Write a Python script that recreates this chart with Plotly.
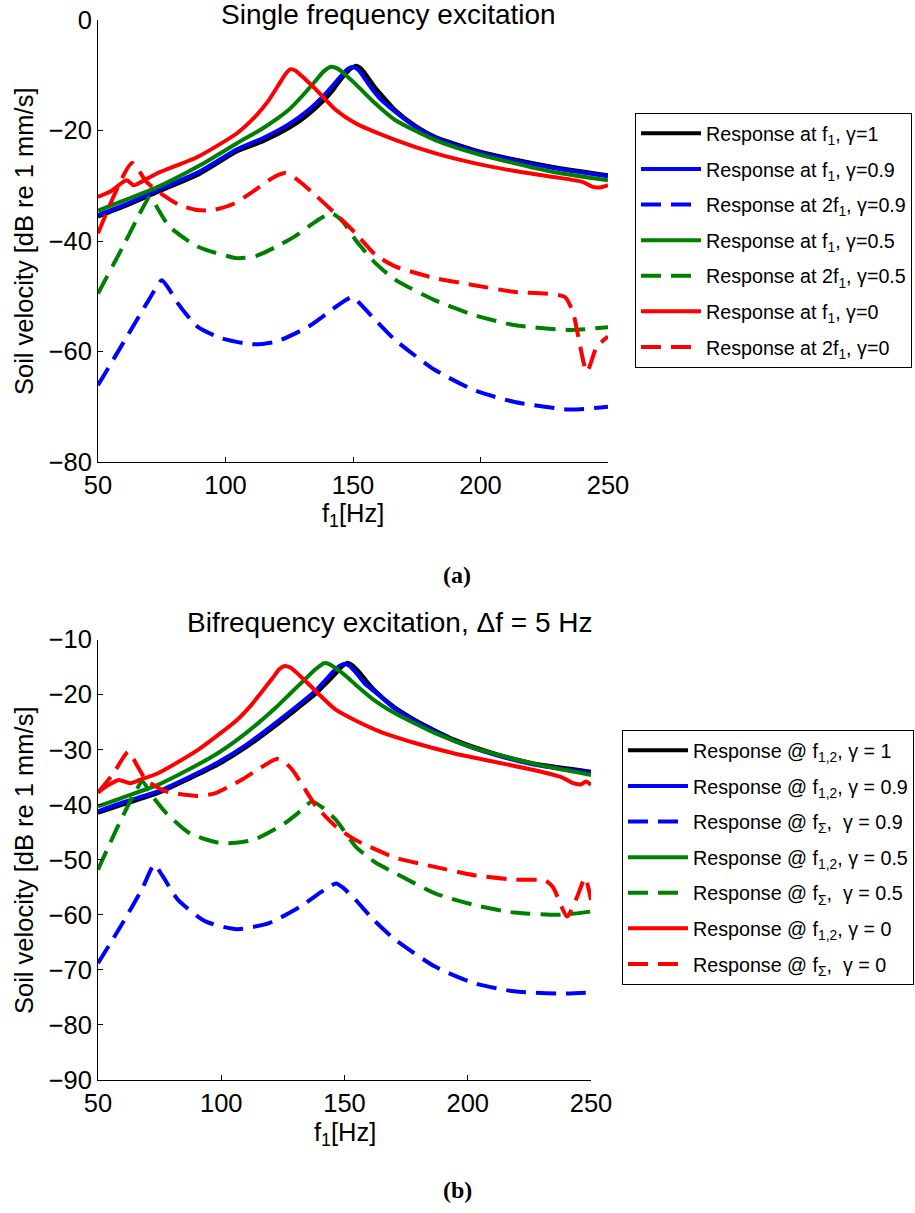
import plotly.graph_objects as go

W, H = 915, 1213

# ---------------- Panel (a): single frequency excitation ----------------
a_f1_g1_x = [50, 60, 73.5, 90, 104.5, 115, 124.7, 132, 138.7, 142, 145, 148, 151.2, 153, 155, 158, 162, 166.5, 174, 182, 197.5, 213, 228.5, 250]
a_f1_g1_y = [-35.6, -33.8, -31.1, -27.8, -23.8, -21.9, -19.6, -17.3, -14.5, -12.8, -10.9, -9.3, -8.3, -8.7, -9.8, -11.8, -14.0, -16.3, -19.0, -21.1, -23.5, -25.2, -26.6, -28.1]

a_f1_g09_x = [50, 60, 73.5, 90, 104.5, 115, 124.7, 132, 138.7, 142, 145, 147.5, 149.8, 152, 154, 157, 161, 166.5, 174, 182, 197.5, 213, 228.5, 250]
a_f1_g09_y = [-35.3, -33.5, -30.8, -27.4, -23.4, -21.3, -18.9, -16.5, -13.6, -11.9, -10.3, -9.0, -8.5, -9.0, -10.2, -12.2, -14.4, -16.6, -19.2, -21.3, -23.7, -25.4, -26.8, -28.3]

a_2f1_g09_x = [50, 62, 70, 75, 78, 81.3, 89, 98.3, 110.7, 120, 132.5, 143.3, 147.5, 149.6, 152, 158.8, 166.5, 182, 197.5, 213, 234.7, 250]
a_2f1_g09_y = [-66.1, -56.8, -50.6, -47.1, -48.8, -51.3, -55.5, -57.6, -58.7, -58.2, -55.5, -51.9, -50.6, -50.1, -51.0, -54.3, -57.9, -63.3, -67.0, -69.1, -70.5, -70.0]

a_f1_g05_x = [50, 60, 73.5, 90, 104.5, 115, 124.7, 130, 135.5, 138.5, 141.4, 144, 146, 151, 158, 166.5, 182, 197.5, 213, 228.5, 250]
a_f1_g05_y = [-34.5, -32.7, -30.2, -26.3, -22.3, -19.5, -16.3, -13.8, -10.9, -9.3, -8.45, -8.8, -9.5, -11.6, -14.8, -18.1, -21.7, -24.1, -25.9, -27.5, -29.0]

a_2f1_g05_x = [50, 60, 67, 70.4, 74, 78, 89, 104.5, 112, 120, 127, 132.5, 138, 141.8, 146, 151, 158.8, 166.5, 182, 197.5, 213, 234.7, 250]
a_2f1_g05_y = [-49.5, -40.8, -34.5, -32.0, -34.6, -37.4, -41.0, -43.1, -42.7, -41.0, -39.2, -37.4, -35.7, -35.0, -36.5, -39.8, -44.0, -47.0, -50.7, -53.4, -55.2, -56.1, -55.6]

a_f1_g0_x = [50, 55, 61.2, 64, 67, 73.5, 89, 104.5, 112, 117, 121, 123.5, 125.5, 127.5, 130, 135.5, 143.3, 151, 166.5, 182, 197.5, 213, 228.5, 240, 244, 247, 250]
a_f1_g0_y = [-32.0, -31.0, -29.0, -29.9, -29.3, -27.7, -24.8, -20.5, -17.3, -14.5, -11.6, -9.8, -8.9, -9.2, -10.2, -12.6, -16.3, -18.7, -21.7, -24.1, -25.9, -27.3, -28.4, -29.3, -30.2, -30.3, -29.9]

a_2f1_g0_x = [50, 63.4, 69, 75, 82, 89, 95, 103, 110, 117, 121, 123.2, 126, 130, 135.5, 143, 151, 158.8, 166.5, 182, 197.5, 213, 233, 236.3, 241.7, 245.6, 250]
a_2f1_g0_y = [-38.6, -25.9, -29.3, -31.5, -33.5, -34.4, -34.4, -33.3, -31.3, -29.0, -28.0, -27.7, -28.2, -29.6, -31.8, -35.0, -38.6, -42.5, -44.6, -46.7, -48.0, -49.2, -50.1, -53.0, -63.7, -59.1, -57.3]

# ---------------- Panel (b): bifrequency excitation ----------------
b_f12_g1_x = [50, 60, 74.3, 86, 98.4, 110, 122.5, 131, 138.5, 142.5, 146.6, 149, 151.3, 153, 156, 159, 162.6, 170, 178.6, 194.6, 210.7, 226.7, 250]
b_f12_g1_y = [-41.5, -40.0, -37.9, -35.5, -32.8, -29.6, -25.5, -22.5, -19.8, -18.0, -16.1, -14.9, -14.2, -14.6, -15.9, -17.6, -19.4, -22.2, -24.6, -28.2, -30.7, -32.5, -34.0]

b_f12_g09_x = [50, 60, 74.3, 86, 98.4, 110, 122.5, 131, 138.5, 142, 145.5, 148, 150, 152, 155, 158, 162.6, 170, 178.6, 194.6, 210.7, 226.7, 250]
b_f12_g09_y = [-41.2, -39.6, -37.6, -35.2, -32.4, -29.2, -25.0, -22.0, -19.2, -17.5, -15.8, -14.8, -14.4, -14.8, -16.2, -17.9, -19.6, -22.4, -24.8, -28.4, -30.9, -32.7, -34.2]

b_fs_g09_x = [50, 60, 68, 72.8, 76, 82.5, 93.6, 106.4, 119.4, 132.1, 141.7, 146.6, 149.5, 154.5, 162, 170.5, 186.7, 202.5, 218.8, 237.8, 250]
b_fs_g09_y = [-68.8, -61.5, -55.2, -50.9, -52.8, -57.3, -61.2, -62.6, -61.5, -58.5, -55.5, -54.3, -55.1, -57.3, -61.0, -64.5, -69.4, -72.4, -73.9, -74.3, -74.1]

b_f12_g05_x = [50, 60, 74.3, 86, 98.4, 110, 122.5, 128, 133.6, 138, 141.7, 144, 147, 150.5, 154.5, 162, 170.5, 186.7, 202.5, 218.8, 234.6, 250]
b_f12_g05_y = [-40.3, -38.7, -36.4, -33.8, -30.7, -27.0, -22.2, -19.8, -17.4, -15.5, -14.3, -14.5, -15.4, -16.6, -18.2, -21.0, -23.4, -27.0, -29.7, -31.7, -33.3, -34.6]

b_fs_g05_x = [50, 58, 64, 68, 72, 77.6, 87.2, 100, 112.9, 125.7, 132, 136.8, 141, 146.6, 154.5, 162.6, 170.5, 186.7, 202.5, 218.8, 237.8, 250]
b_fs_g05_y = [-51.8, -44.0, -38.6, -35.8, -38.4, -41.5, -45.2, -47.0, -46.4, -43.4, -41.2, -39.4, -40.5, -42.8, -47.6, -50.5, -52.4, -56.1, -58.2, -59.6, -60.0, -59.4]

b_f12_g0_x = [50, 54, 58.4, 63.1, 67, 74.3, 90.4, 106.4, 112, 116.1, 121, 123.5, 125.7, 128, 130.5, 135.2, 146.6, 162.6, 178.6, 194.6, 210.7, 226.7, 238, 242.7, 246, 248, 250]
b_f12_g0_y = [-37.8, -36.5, -35.5, -36.1, -35.5, -34.3, -30.1, -24.6, -22.0, -19.7, -16.9, -15.4, -14.8, -15.1, -16.0, -18.0, -22.8, -26.4, -28.8, -30.7, -32.2, -33.7, -35.0, -36.1, -36.3, -35.8, -36.4]

b_fs_g0_x = [50, 56, 62.3, 66, 69.5, 77.6, 90.4, 97, 103.2, 109, 114.5, 120, 122.5, 125, 128.9, 133, 138.5, 146.6, 154.5, 170.5, 186.7, 202.5, 218.8, 231.5, 234.6, 240.3, 244.4, 247.6, 250]
b_fs_g0_y = [-37.8, -34.5, -30.4, -33.0, -35.5, -37.6, -38.4, -38.0, -36.7, -35.3, -33.7, -32.2, -31.7, -32.0, -33.7, -36.5, -40.3, -44.0, -46.4, -49.6, -51.3, -52.8, -53.6, -53.8, -55.0, -60.3, -56.7, -53.3, -57.3]

a_names = ["Response at f<sub>1</sub>, γ=1",
           "Response at f<sub>1</sub>, γ=0.9",
           "Response at 2f<sub>1</sub>, γ=0.9",
           "Response at f<sub>1</sub>, γ=0.5",
           "Response at 2f<sub>1</sub>, γ=0.5",
           "Response at f<sub>1</sub>, γ=0",
           "Response at 2f<sub>1</sub>, γ=0"]
b_names = ["Response @ f<sub>1,2</sub>, γ = 1",
           "Response @ f<sub>1,2</sub>, γ = 0.9",
           "Response @ f<sub>Σ</sub>,  γ = 0.9",
           "Response @ f<sub>1,2</sub>, γ = 0.5",
           "Response @ f<sub>Σ</sub>,  γ = 0.5",
           "Response @ f<sub>1,2</sub>, γ = 0",
           "Response @ f<sub>Σ</sub>,  γ = 0"]

colors = ["#000000", "#0000ff", "#0000ff", "#008000", "#008000", "#ff0000", "#ff0000"]
dashes = ["solid", "solid", "20px,10px", "solid", "20px,10px", "solid", "20px,10px"]

a_series = [(a_f1_g1_x, a_f1_g1_y), (a_f1_g09_x, a_f1_g09_y), (a_2f1_g09_x, a_2f1_g09_y),
            (a_f1_g05_x, a_f1_g05_y), (a_2f1_g05_x, a_2f1_g05_y),
            (a_f1_g0_x, a_f1_g0_y), (a_2f1_g0_x, a_2f1_g0_y)]
b_series = [(b_f12_g1_x, b_f12_g1_y), (b_f12_g09_x, b_f12_g09_y), (b_fs_g09_x, b_fs_g09_y),
            (b_f12_g05_x, b_f12_g05_y), (b_fs_g05_x, b_fs_g05_y),
            (b_f12_g0_x, b_f12_g0_y), (b_fs_g0_x, b_fs_g0_y)]

FONT = "Liberation Sans, Arial, sans-serif"
LW = 4

fig = go.Figure()
for i, (xs, ys) in enumerate(a_series):
    fig.add_trace(go.Scatter(x=xs, y=ys, mode="lines", name=a_names[i],
                             line=dict(color=colors[i], width=LW, dash=dashes[i],
                                       shape="spline", smoothing=0.6),
                             xaxis="x", yaxis="y", legend="legend",
                             legendgroup="a%d" % i))
for i, (xs, ys) in enumerate(b_series):
    fig.add_trace(go.Scatter(x=xs, y=ys, mode="lines", name=b_names[i],
                             line=dict(color=colors[i], width=LW, dash=dashes[i],
                                       shape="spline", smoothing=0.6),
                             xaxis="x2", yaxis="y2", legend="legend2",
                             legendgroup="b%d" % i))

def px(x):
    return x / W

def py(y):
    return 1 - y / H

axis_common = dict(showline=True, linecolor="black", linewidth=1, ticks="inside",
                   ticklen=5, tickwidth=1, tickcolor="black", showgrid=False,
                   zeroline=False, mirror=False, automargin=False,
                   tickfont=dict(family=FONT, size=25.5, color="black"))

legend_common = dict(bgcolor="white", bordercolor="black", borderwidth=1,
                     font=dict(family=FONT, size=19.7, color="black"),
                     xanchor="right", yanchor="top", tracegroupgap=7,
                     itemwidth=60, traceorder="grouped")

fig.update_layout(
    width=W, height=H,
    margin=dict(l=0, r=0, t=0, b=0, autoexpand=False),
    paper_bgcolor="white", plot_bgcolor="white",
    font=dict(family=FONT, color="black"),
    xaxis=dict(domain=[px(98), px(608)], range=[50, 250], tickvals=[50, 100, 150, 200, 250],
               anchor="y", **axis_common),
    yaxis=dict(domain=[py(462), py(20)], range=[-80, 0], tickvals=[-80, -60, -40, -20, 0],
               anchor="x", **axis_common),
    xaxis2=dict(domain=[px(98), px(591)], range=[50, 250], tickvals=[50, 100, 150, 200, 250],
                anchor="y2", **axis_common),
    yaxis2=dict(domain=[py(1080), py(639.5)], range=[-90, -10],
                tickvals=[-90, -80, -70, -60, -50, -40, -30, -20, -10],
                anchor="x2", **axis_common),
    legend=dict(x=px(912), y=py(113), **legend_common),
    legend2=dict(x=px(914), y=py(730), **legend_common),
    showlegend=True,
)

ann = [
    dict(text="Single frequency excitation", x=px(388), y=py(15), font=dict(size=28)),
    dict(text="Bifrequency excitation, Δf = 5 Hz", x=px(389), y=py(622), font=dict(size=28)),
    dict(text="Soil velocity [dB re 1 mm/s]", x=px(24), y=py(241), textangle=-90, font=dict(size=25.5)),
    dict(text="Soil velocity [dB re 1 mm/s]", x=px(24), y=py(860), textangle=-90, font=dict(size=25.5)),
    dict(text="f<sub>1</sub>[Hz]", x=px(353), y=py(497), yanchor="top", font=dict(size=25.5)),
    dict(text="f<sub>1</sub>[Hz]", x=px(345), y=py(1116), yanchor="top", font=dict(size=25.5)),
    dict(text="<b>(a)</b>", x=px(457), y=py(575), font=dict(size=24, family="Liberation Serif, serif")),
    dict(text="<b>(b)</b>", x=px(457), y=py(1190), font=dict(size=24, family="Liberation Serif, serif")),
]
for a in ann:
    a.setdefault("xref", "paper")
    a.setdefault("yref", "paper")
    a["showarrow"] = False
    a["xanchor"] = "center"
    a.setdefault("yanchor", "middle")
    f = a["font"]
    f.setdefault("family", FONT)
    f["color"] = "black"
    fig.add_annotation(**a)

fig.write_html("out.html")
